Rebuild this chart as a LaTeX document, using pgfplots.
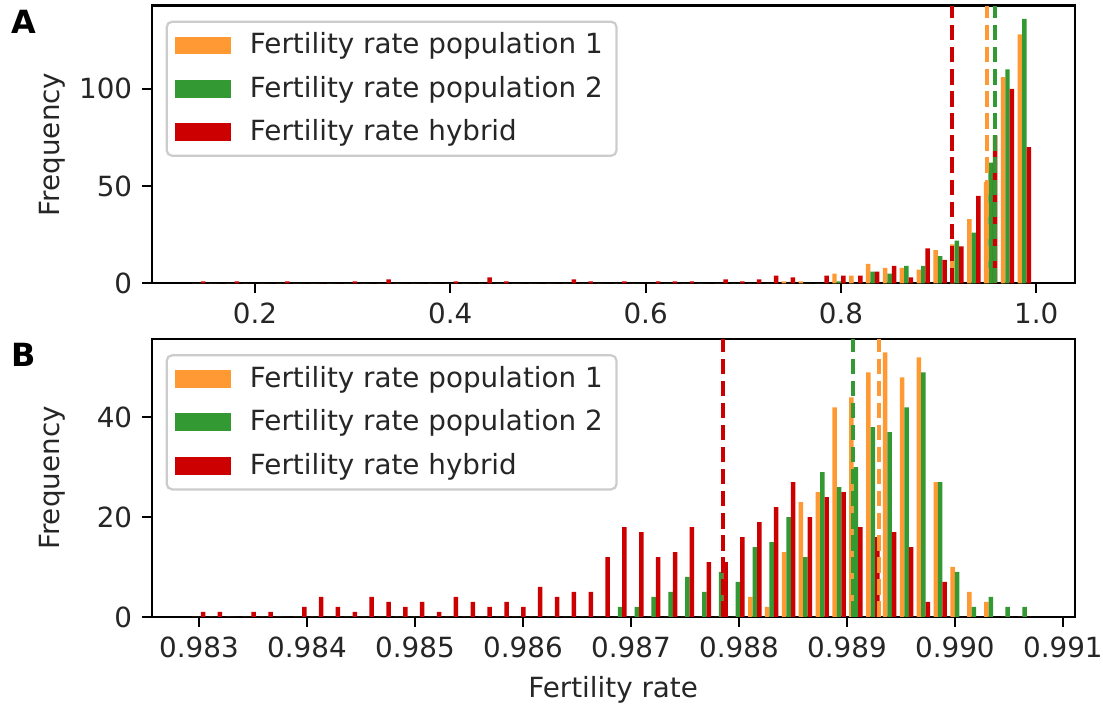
\documentclass[border=0pt]{standalone}
\usepackage{fontspec}
\setmainfont{DejaVu Sans}
\usepackage{pgfplots}
\usepackage{pgfplotstable}
\pgfplotsset{compat=1.18}
\definecolor{corange}{RGB}{255,153,51}
\definecolor{cgreen}{RGB}{51,153,51}
\definecolor{cred}{RGB}{204,0,0}

% Panel A histogram: bin index, counts of population 1, population 2, hybrid
\pgfplotstableread{
bin o g r
0 0 0 1
1 0 0 0
2 0 0 1
3 0 0 0
4 0 0 0
5 0 0 1
6 0 0 0
7 0 0 0
8 0 0 0
9 0 0 1
10 0 0 0
11 0 0 2
12 0 0 0
13 0 0 0
14 0 0 0
15 0 0 1
16 0 0 0
17 0 0 3
18 0 0 1
19 0 0 0
20 0 0 0
21 0 0 0
22 0 0 2
23 0 0 1
24 0 0 0
25 0 0 1
26 0 0 0
27 0 0 1
28 0 0 1
29 0 0 1
30 0 0 0
31 0 0 2
32 0 0 1
33 0 0 2
34 0 0 4
35 1 0 3
36 1 0 0
37 0 0 4
38 5 1 4
39 4 0 4
40 10 6 6
41 8 5 9
42 8 9 3
43 7 9 18
44 17 14 12
45 20 22 19
46 33 26 45
47 52 62 76
48 106 110 100
49 128 136 70
}\histA

% Panel B histogram
\pgfplotstableread{
bin o g r
0 0 0 1
1 0 0 1
2 0 0 0
3 0 0 1
4 0 0 1
5 0 0 0
6 0 0 2
7 0 0 4
8 0 0 2
9 0 0 1
10 0 0 4
11 0 0 3
12 0 0 2
13 0 0 3
14 0 0 1
15 0 0 4
16 0 0 3
17 0 0 2
18 0 0 3
19 0 0 2
20 0 0 6
21 0 0 4
22 0 0 5
23 0 0 5
24 0 0 12
25 0 2 18
26 0 2 17
27 0 4 12
28 0 5 13
29 0 8 18
30 0 5 11
31 0 9 11
32 0 7 16
33 4 14 19
34 2 15 22
35 13 20 27
36 23 12 20
37 25 29 24
38 42 26 25
39 44 30 18
40 49 38 16
41 53 37 17
42 48 42 14
43 52 49 3
44 27 27 7
45 10 9 0
46 5 2 0
47 3 4 0
48 0 2 0
49 0 2 0
}\histB

\pgfplotsset{
  histaxis/.style={
    scale only axis, width=332.3pt, height=100pt,
    enlargelimits=false, ymin=0,
    axis line style={line width=0.8pt, black},
    every tick/.style={black, line width=0.8pt},
    tick align=outside, major tick length=3.5pt,
    tick pos=left,
    scaled x ticks=false, scaled y ticks=false,
    /pgf/number format/assume math mode=true,
    ticklabel style={font=\fontsize{10}{12}\selectfont, text=black!85},
    label style={font=\fontsize{10}{12}\selectfont, text=black!85},
    ylabel={Frequency},
    ylabel style={at={(axis description cs:-0.108,0.5)}, anchor=center, rotate=0},
    legend cell align=left,
    legend image code/.code={\fill[##1, fill opacity=1, sharp corners] (0pt,-3.2pt) rectangle (20pt,3.2pt);},
    legend style={
      at={(axis description cs:0,1)}, anchor=north west,
      xshift=5pt, yshift=-5.4pt,
      draw=black!20, line width=0.8pt, rounded corners=2pt,
      fill=white, fill opacity=0.8, text opacity=1,
      inner xsep=3pt, inner ysep=2pt,
      font=\fontsize{10}{12}\selectfont,
      text=black!85,
      row sep=2.5pt,
      /tikz/every odd column/.append style={column sep=5pt},
    },
  },
  barO/.style={ybar, bar width=1.617pt, bar shift=-1.617pt, fill=corange, draw=none},
  barG/.style={ybar, bar width=1.617pt, bar shift=0pt, fill=cgreen, draw=none},
  barR/.style={ybar, bar width=1.617pt, bar shift=1.617pt, fill=cred, draw=none},
  meanline/.style={line width=1.5pt, dash pattern=on 5.55pt off 2.4pt, forget plot},
}

\begin{document}
\begin{tikzpicture}
\useasboundingbox (-54.6pt,-32.1pt) rectangle (342.5pt,222.1pt);

% Panel A
\begin{axis}[histaxis, at={(0pt,120.1pt)}, anchor=south west,
  xmin=0.09427, xmax=1.0393, ymax=142.8,
  xtick={0.2,0.4,0.6,0.8,1.0}, xticklabels={0.2,0.4,0.6,0.8,1.0},
  ytick={0,50,100}, yticklabels={0,50,100}]
\addplot[barO] table[x expr=\thisrow{bin}*0.017252+0.142406, y=o] {\histA};
\addlegendentry{Fertility rate population 1}
\addplot[barG] table[x expr=\thisrow{bin}*0.017252+0.142406, y=g] {\histA};
\addlegendentry{Fertility rate population 2}
\addplot[barR] table[x expr=\thisrow{bin}*0.017252+0.142406, y=r] {\histA};
\addlegendentry{Fertility rate hybrid}
\addplot[meanline, corange] coordinates {(0.9499,0) (0.9499,142.8)};
\addplot[meanline, cgreen] coordinates {(0.9581,0) (0.9581,142.8)};
\addplot[meanline, cred] coordinates {(0.9137,0) (0.9137,142.8)};
\end{axis}

% Panel B
\begin{axis}[histaxis, at={(0pt,0pt)}, anchor=south west,
  xmin=0.982562, xmax=0.991109, ymax=55.65,
  xtick={0.983,0.984,0.985,0.986,0.987,0.988,0.989,0.990,0.991},
  xticklabels={0.983,0.984,0.985,0.986,0.987,0.988,0.989,0.990,0.991},
  ytick={0,20,40}, yticklabels={0,20,40},
  xlabel={Fertility rate},
  xlabel style={at={(axis description cs:0.5,-0.264)}, anchor=center}]
\addplot[barO] table[x expr=\thisrow{bin}*0.00015607+0.982997, y=o] {\histB};
\addlegendentry{Fertility rate population 1}
\addplot[barG] table[x expr=\thisrow{bin}*0.00015607+0.982997, y=g] {\histB};
\addlegendentry{Fertility rate population 2}
\addplot[barR] table[x expr=\thisrow{bin}*0.00015607+0.982997, y=r] {\histB};
\addlegendentry{Fertility rate hybrid}
\addplot[meanline, corange] coordinates {(0.989299,0) (0.989299,55.65)};
\addplot[meanline, cgreen] coordinates {(0.989058,0) (0.989058,55.65)};
\addplot[meanline, cred] coordinates {(0.98785,0) (0.98785,55.65)};
\end{axis}

\node[font=\fontsize{11.5}{13}\selectfont\bfseries] at (-46pt,214.4pt) {A};
\node[font=\fontsize{11.5}{13}\selectfont\bfseries] at (-46pt,94.2pt) {B};
\end{tikzpicture}
\end{document}
